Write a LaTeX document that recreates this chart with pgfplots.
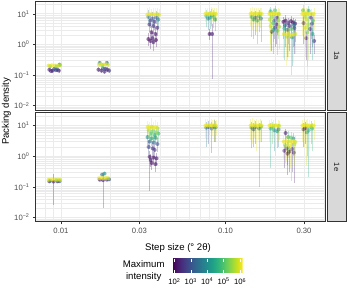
\documentclass[border=0pt]{standalone}
\usepackage{pgfplots}
\pgfplotsset{compat=1.18}
\usepackage{fontspec}
\setmainfont{Liberation Sans}
\definecolor{gridc}{HTML}{EBEBEB}
\definecolor{tickc}{HTML}{4D4D4D}
\definecolor{stripc}{HTML}{D9D9D9}
\definecolor{borderc}{HTML}{333333}
\definecolor{stript}{HTML}{1A1A1A}

% mark = vertical range from the row's lo to hi (30.616pt per decade on the y axis) + the point itself
\pgfdeclareplotmark{barpt}{%
  \pgfkeys{/pgf/fpu=false}%
  \pgfmathsetmacro\errup{30.616*log10(\vhi/\vy)}%
  \pgfmathsetmacro\errdn{30.616*log10(\vy/\vlo)}%
  \pgfsetstrokeopacity{0.3}%
  \pgfsetlinewidth{0.55pt}%
  \pgfpathmoveto{\pgfpoint{0pt}{-\errdn pt}}%
  \pgfpathlineto{\pgfpoint{0pt}{\errup pt}}%
  \pgfusepath{stroke}%
  \pgfsetfillopacity{0.6}%
  \pgfpathcircle{\pgfpointorigin}{2pt}%
  \pgfusepath{fill}}

\begin{document}
\begin{tikzpicture}
\useasboundingbox (0,0) rectangle (347pt,288pt);

\begin{axis}[at={(35.7pt,178pt)}, anchor=south west,
    xmode=log, ymode=log,
    scale only axis, width=290pt, height=109pt,
    xmin=0.00702, xmax=0.4064, ymin=0.00724, ymax=26.3,
    xtick={0.01,0.03,0.1,0.3}, xticklabels={},
    minor xtick={0.008,0.009,0.02,0.04,0.05,0.06,0.07,0.08,0.09,0.2,0.4},
    ytick={0.01,0.1,1,10},
    yticklabels={10\textsuperscript{−2},10\textsuperscript{−1},10\textsuperscript{0},10\textsuperscript{1}},
    minor ytick={0.008,0.009,0.02,0.03,0.04,0.05,0.06,0.07,0.08,0.09,0.2,0.3,0.4,0.5,0.6,0.7,0.8,0.9,2,3,4,5,6,7,8,9,20},
    grid=both,
    major grid style={draw=gridc, line width=0.8pt},
    minor grid style={draw=gridc, line width=0.45pt},
    axis line style={draw=borderc, line width=0.8pt},
    tick align=outside, tick pos=left,
    major tick length=2.75pt, minor tick length=0pt,
    tick style={draw=borderc, line width=0.5pt},
    xtick style={draw=none},
    ticklabel style={font=\fontsize{7.7}{9}\selectfont, text=tickc},
    colormap name=viridis,
    point meta min=1.9, point meta max=6.16]
% panel 1a: step size, packing density, log10(maximum intensity), lower, upper
\addplot[scatter, only marks, mark=barpt, scatter src=explicit,
    scatter/use mapped color={draw=mapped color, fill=mapped color},
    visualization depends on={value \thisrow{y} \as \vy},
    visualization depends on={value \thisrow{lo} \as \vlo},
    visualization depends on={value \thisrow{hi} \as \vhi}]
  table[x=x, y=y, meta=c] {
x y c lo hi
0.0085 0.15 2.3 0.13 0.17
0.0089 0.14 2.2 0.12 0.16
0.0093 0.145 2.5 0.125 0.165
0.0097 0.14 2.1 0.12 0.16
0.0087 0.135 2.4 0.115 0.155
0.0095 0.15 2.8 0.13 0.17
0.0091 0.16 3.0 0.14 0.18
0.0098 0.22 4.0 0.19 0.25
0.0086 0.195 5.2 0.17 0.22
0.0094 0.19 4.8 0.165 0.215
0.0084 0.205 6.0 0.18 0.23
0.0088 0.21 6.1 0.185 0.235
0.0092 0.205 5.9 0.18 0.23
0.0096 0.20 6.0 0.175 0.225
0.0099 0.21 5.7 0.185 0.235
0.0169 0.15 2.3 0.125 0.18
0.0176 0.14 2.2 0.115 0.17
0.0184 0.13 2.4 0.11 0.16
0.0191 0.15 2.2 0.125 0.18
0.0196 0.14 2.6 0.115 0.17
0.0180 0.165 3.0 0.14 0.195
0.0186 0.16 2.8 0.135 0.19
0.0172 0.25 3.8 0.21 0.29
0.0190 0.25 3.5 0.21 0.29
0.0178 0.21 5.0 0.18 0.245
0.0170 0.22 6.0 0.19 0.255
0.0175 0.225 6.1 0.195 0.26
0.0181 0.22 5.9 0.19 0.255
0.0187 0.225 6.0 0.195 0.26
0.0193 0.22 5.8 0.19 0.255
0.0340 1.5 2.0 0.9 2.4
0.0350 1.3 2.1 0.7 2.2
0.0365 1.2 2.2 0.6 2.0
0.0378 1.4 2.0 0.8 2.3
0.0360 1.6 2.3 1.0 2.6
0.0355 2.5 2.1 1.4 4.0
0.0375 2.2 2.2 1.2 3.6
0.0345 4.5 2.4 2.5 7.5
0.0365 4.0 2.5 2.2 6.5
0.0385 3.5 2.3 1.9 6.0
0.0350 6.0 2.8 3.5 9.5
0.0370 5.5 2.6 3.0 9.0
0.0390 6.5 3.8 3.8 10.5
0.0340 8.0 3.5 4.8 13
0.0360 7.0 3.0 4.0 11.5
0.0380 7.5 3.2 4.5 12
0.0335 9.5 6.0 6.5 15
0.0345 9.8 6.1 6.8 17
0.0355 9.6 5.9 6.5 14
0.0365 9.7 6.0 6.6 15.5
0.0375 9.5 6.1 6.5 16
0.0385 9.8 5.8 6.8 15
0.0395 9.4 6.0 6.4 14
0.0800 2.2 2.1 1.4 3.2
0.0830 2.2 2.3 0.075 4.5
0.0785 7.0 3.5 3.0 11
0.0865 6.5 4.0 2.8 10
0.0805 7.5 4.3 3.2 12
0.0765 8.5 4.6 3.8 13
0.0845 8.0 4.8 3.5 13
0.0825 9.0 4.2 4.0 14
0.0755 10 6.0 5.5 15
0.0775 10.2 6.1 6.0 16
0.0795 10 5.9 5.0 15
0.0815 10.1 6.0 6.0 17
0.0835 10 6.1 5.5 15
0.0855 10.2 5.8 6.0 16
0.0875 10 6.0 5.8 15
0.152 7.5 3.0 2.0 12
0.164 7.0 3.5 1.2 11
0.148 6.5 4.0 1.5 10
0.160 8.5 4.2 2.5 13
0.156 6.0 4.4 1.0 10
0.144 8.0 4.5 1.8 12.5
0.142 10 6.0 4.0 16
0.146 10.2 6.1 3.0 17
0.150 10 5.9 5.0 15
0.154 10.1 6.0 2.5 16
0.158 10 6.1 4.0 15
0.162 10.2 5.8 3.5 16
0.166 10 6.0 5.0 15
0.191 2.6 2.2 0.6 4.0
0.204 4.5 2.3 1.0 7.0
0.206 7.5 2.5 2.0 11
0.200 3.5 2.6 0.8 5.5
0.198 6.0 3.0 1.5 9.5
0.196 3.0 4.0 0.5 5.0
0.188 12 4.5 5.0 17
0.194 5.0 4.8 1.2 8.0
0.200 13 5.0 6.0 18
0.207 2.8 5.0 0.45 4.5
0.210 6.2 5.2 1.5 9.5
0.212 3.8 5.5 0.7 6.0
0.192 8.0 5.5 2.0 12
0.186 6.5 5.7 1.0 10
0.188 4.0 5.9 0.6 6.5
0.185 10 6.0 3.0 15
0.190 10.3 6.1 2.5 16
0.196 10 5.9 4.0 15
0.202 10.2 6.0 3.0 16
0.208 10 6.0 2.0 15
0.212 9.8 5.8 3.5 14
0.225 5.5 2.0 1.5 8.0
0.232 6.0 2.2 2.0 9.0
0.240 5.0 2.4 1.0 7.5
0.250 5.8 2.1 1.8 8.5
0.258 5.2 2.0 0.8 7.5
0.265 4.8 2.3 1.2 7.0
0.262 3.4 2.5 0.5 5.0
0.245 4.0 2.6 0.6 6.0
0.230 4.2 3.0 0.8 6.5
0.238 3.0 3.2 0.4 4.5
0.260 4.3 3.5 0.9 6.5
0.254 1.7 4.0 0.2 2.6
0.228 3.3 4.5 0.3 5.0
0.252 3.2 5.0 0.1 5.0
0.236 1.8 5.5 0.3 2.8
0.226 2.2 6.0 0.35 3.4
0.234 2.1 6.1 0.2 3.2
0.242 2.2 5.9 0.4 3.4
0.250 2.0 6.0 0.3 3.0
0.258 2.1 6.1 0.25 3.2
0.266 2.2 5.8 0.5 3.4
0.310 1.6 2.2 0.3 2.5
0.298 5.0 2.3 1.0 8.0
0.326 3.2 2.4 0.5 5.0
0.330 7.5 2.5 1.5 11
0.346 1.3 2.6 0.5 2.0
0.336 4.8 3.0 0.8 7.5
0.338 2.2 4.4 0.3 3.5
0.320 12.5 4.5 3.0 18
0.340 6.0 4.8 1.0 9.5
0.296 13 5.0 4.0 20
0.314 2.5 5.2 0.2 4.0
0.304 8.0 5.5 0.8 12
0.318 4.5 5.6 0.3 7.0
0.312 6.5 5.8 0.07 10
0.306 3.5 5.9 0.4 5.5
0.293 10 6.0 2.0 15
0.300 10.3 6.1 1.5 16
0.308 10 5.9 3.0 15
0.316 10.2 6.0 0.5 16
0.324 10 6.1 2.5 15
0.334 9.8 5.8 1.0 14
0.344 10 6.0 3.0 15
};
\end{axis}

\begin{axis}[at={(35.7pt,66.3pt)}, anchor=south west,
    xmode=log, ymode=log,
    scale only axis, width=290pt, height=109pt,
    xmin=0.00702, xmax=0.4064, ymin=0.00724, ymax=26.3,
    xtick={0.01,0.03,0.1,0.3}, xticklabels={0.01,0.03,0.10,0.30},
    minor xtick={0.008,0.009,0.02,0.04,0.05,0.06,0.07,0.08,0.09,0.2,0.4},
    ytick={0.01,0.1,1,10},
    yticklabels={10\textsuperscript{−2},10\textsuperscript{−1},10\textsuperscript{0},10\textsuperscript{1}},
    minor ytick={0.008,0.009,0.02,0.03,0.04,0.05,0.06,0.07,0.08,0.09,0.2,0.3,0.4,0.5,0.6,0.7,0.8,0.9,2,3,4,5,6,7,8,9,20},
    grid=both,
    major grid style={draw=gridc, line width=0.8pt},
    minor grid style={draw=gridc, line width=0.45pt},
    axis line style={draw=borderc, line width=0.8pt},
    tick align=outside, tick pos=left,
    major tick length=2.75pt, minor tick length=0pt,
    tick style={draw=borderc, line width=0.5pt},
    ticklabel style={font=\fontsize{7.7}{9}\selectfont, text=tickc},
    colormap name=viridis,
    point meta min=1.9, point meta max=6.16]
% panel 1e
\addplot[scatter, only marks, mark=barpt, scatter src=explicit,
    scatter/use mapped color={draw=mapped color, fill=mapped color},
    visualization depends on={value \thisrow{y} \as \vy},
    visualization depends on={value \thisrow{lo} \as \vlo},
    visualization depends on={value \thisrow{hi} \as \vhi}]
  table[x=x, y=y, meta=c] {
x y c lo hi
0.0085 0.15 2.3 0.135 0.165
0.0090 0.148 2.2 0.025 0.26
0.0095 0.15 2.5 0.135 0.165
0.0098 0.152 3.0 0.135 0.17
0.0086 0.16 4.5 0.145 0.175
0.0094 0.162 5.0 0.145 0.18
0.0084 0.17 6.0 0.155 0.19
0.0088 0.175 6.1 0.16 0.19
0.0092 0.17 5.9 0.155 0.19
0.0096 0.172 6.0 0.155 0.19
0.0099 0.168 5.8 0.15 0.185
0.0172 0.17 2.3 0.15 0.19
0.0180 0.165 2.2 0.021 0.24
0.0190 0.17 2.5 0.15 0.19
0.0196 0.175 3.0 0.155 0.195
0.0178 0.25 3.5 0.22 0.28
0.0184 0.27 4.0 0.24 0.30
0.0170 0.19 6.0 0.17 0.21
0.0176 0.195 6.1 0.175 0.215
0.0182 0.19 5.9 0.17 0.21
0.0188 0.195 6.0 0.175 0.215
0.0194 0.19 5.8 0.17 0.21
0.0356 0.6 2.0 0.35 0.9
0.0376 0.55 2.1 0.3 0.85
0.0366 0.9 2.0 0.5 1.4
0.0346 0.95 2.1 0.075 1.5
0.0381 0.85 2.2 0.5 1.3
0.0351 0.75 2.3 0.45 1.2
0.0371 1.6 2.5 0.9 2.5
0.0361 1.8 2.6 1.0 2.8
0.0341 2.0 2.8 1.1 3.2
0.0386 2.5 3.0 1.4 4.0
0.0346 3.0 3.2 1.7 4.8
0.0366 2.8 3.5 1.6 4.5
0.0376 4.0 3.8 2.3 6.5
0.0336 4.2 4.0 2.4 7.0
0.0356 3.8 4.2 2.2 6.0
0.0371 5.0 4.6 2.8 8.0
0.0391 5.5 4.8 3.0 9.0
0.0351 5.5 5.0 3.0 9.0
0.0361 6.5 5.2 3.6 10.5
0.0381 6.0 5.4 3.4 10
0.0341 7.0 5.6 4.0 11.5
0.0336 9.0 6.0 5.5 14
0.0346 8.6 6.1 5.0 13
0.0356 9.2 5.9 5.5 18
0.0366 8.4 6.0 5.0 13
0.0376 9.0 6.1 5.5 15
0.0386 8.2 5.8 5.0 13
0.0850 9.3 2.8 3.0 15
0.0790 9.0 3.0 2.5 14
0.0825 8.0 3.2 1.25 13
0.0765 8.5 3.5 2.0 13.5
0.0870 8.7 3.8 2.8 14
0.0755 10 6.0 4.0 16
0.0775 10.2 6.1 3.5 16
0.0795 10 5.9 5.0 15
0.0815 10.1 6.0 2.5 16
0.0835 10 6.1 4.5 15
0.0855 10.2 5.8 3.0 16
0.0875 10 6.0 5.0 15
0.148 7.5 3.0 2.0 12
0.152 9.0 3.2 2.5 14
0.144 8.5 3.5 1.8 13
0.160 8.0 3.8 0.1 12.5
0.164 9.2 4.0 3.0 14
0.142 10 6.0 3.5 16
0.146 10.2 6.1 2.5 17
0.150 10 5.9 4.0 15
0.154 10.1 6.0 1.5 16
0.158 10 6.1 3.5 15
0.162 10.2 5.8 2.8 16
0.166 10 6.0 4.5 15
0.210 7.5 3.5 2.0 11
0.198 7.0 4.0 1.5 11
0.206 6.5 4.3 1.8 10
0.188 8.0 4.5 0.4 12.5
0.193 8.5 5.0 2.5 13
0.185 10 6.0 3.0 15
0.190 10.3 6.1 2.0 16
0.196 10 5.9 4.0 15
0.202 10.2 6.0 1.0 16
0.208 10 6.0 3.0 15
0.212 9.8 5.8 3.5 14
0.244 1.4 2.1 0.3 2.1
0.228 1.5 2.2 0.4 2.3
0.238 1.2 2.2 0.25 1.9
0.232 5.7 2.3 2.0 8.0
0.260 1.3 2.3 0.13 2.0
0.254 1.7 2.5 0.3 2.6
0.236 1.8 3.0 0.5 2.8
0.258 3.8 3.8 1.0 5.8
0.240 4.2 4.5 1.2 6.5
0.250 4.0 5.0 0.16 6.0
0.230 2.3 5.5 0.6 3.5
0.262 2.4 5.7 0.5 3.6
0.246 2.2 6.0 0.4 3.3
0.226 3.0 6.0 0.8 4.5
0.234 3.1 6.1 0.7 4.6
0.242 3.0 5.9 0.9 4.5
0.250 3.0 6.0 0.6 4.5
0.258 3.1 6.1 0.8 4.6
0.266 2.9 5.8 1.0 4.4
0.306 8.2 2.3 2.5 13
0.298 7.5 2.5 2.0 12
0.312 6.0 4.2 1.0 9.5
0.320 7.0 4.5 0.21 11
0.336 8.0 4.8 1.5 12.5
0.330 9.0 5.0 2.5 14
0.293 10 6.0 3.0 15
0.300 10.3 6.1 2.0 16
0.308 10 5.9 0.5 15
0.316 10.2 6.0 3.0 16
0.324 10 6.1 1.5 15
0.334 9.8 5.8 2.5 14
0.344 10 6.0 3.5 15
};
\end{axis}

% colour scale legend
\begin{axis}[at={(172.7pt,37.8pt)}, anchor=north west,
    scale only axis, width=70pt, height=14pt,
    hide axis, xmin=0, xmax=1, ymin=0, ymax=1,
    colormap name=viridis,
    point meta min=1.9, point meta max=6.16,
    colorbar horizontal,
    colorbar style={
      at={(parent axis.north west)}, anchor=north west,
      scale only axis, width=70pt, height=14pt,
      xtick={2,3,4,5,6},
      xticklabels={10\textsuperscript{2},10\textsuperscript{3},10\textsuperscript{4},10\textsuperscript{5},10\textsuperscript{6}},
      axis line style={draw=none},
      tick align=inside, xtick pos=both, xticklabel pos=lower,
      major tick length=2.8pt,
      xtick style={draw=white, line width=0.5pt},
      xticklabel style={font=\fontsize{7.7}{9}\selectfont, text=black, yshift=-2pt},
      ytick=\empty,
    }]
\addplot[draw=none, forget plot] coordinates {(0.5,0.5)};
\end{axis}

% facet strips
\draw[draw=borderc, fill=stripc, line width=0.8pt] (326.9pt,178pt) rectangle (346.5pt,287pt);
\node[rotate=-90, text=stript, font=\fontsize{7.7}{9}\selectfont] at (336.7pt,232.5pt) {1a};
\draw[draw=borderc, fill=stripc, line width=0.8pt] (326.9pt,66.3pt) rectangle (346.5pt,175.3pt);
\node[rotate=-90, text=stript, font=\fontsize{7.7}{9}\selectfont] at (336.7pt,120.8pt) {1e};

% axis titles
\node[rotate=90, font=\fontsize{9.6}{11}\selectfont] at (6.5pt,176.7pt) {Packing density};
\node[font=\fontsize{9.6}{11}\selectfont] at (178pt,39.5pt) {Step size (° 2θ)};
\node[align=center, font=\fontsize{9.6}{12}\selectfont] at (143.7pt,16.8pt) {Maximum\\intensity};
\end{tikzpicture}
\end{document}
